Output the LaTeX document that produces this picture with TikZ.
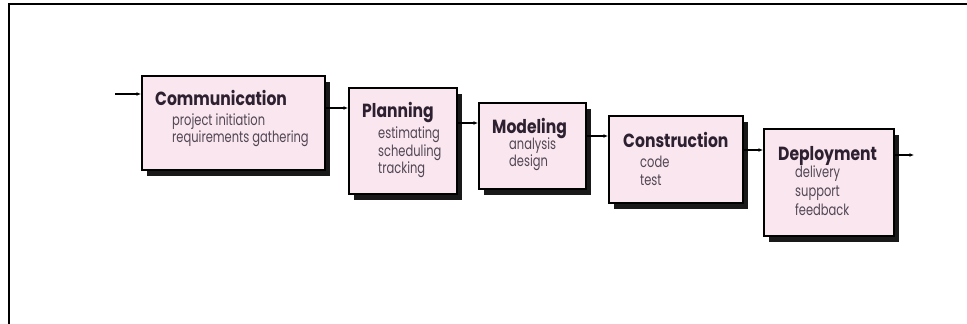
\documentclass[tikz,border=0pt]{standalone}
\usepackage{fontspec}
\usetikzlibrary{arrows.meta,shadows,calc}
\newfontfamily\titlefont{Poppins}[FakeStretch=0.82]
\newfontfamily\itemfont{Poppins}[FakeStretch=0.74]
\definecolor{boxpink}{RGB}{250,230,238}
\definecolor{titleink}{RGB}{45,32,48}
\definecolor{itemink}{RGB}{80,70,84}
\tikzset{
  stage/.style={draw=black, line width=1.6pt, fill=boxpink, rectangle,
    anchor=north west, inner sep=0pt,
    drop shadow={shadow xshift=5pt, shadow yshift=-6pt, fill=black!90, opacity=1}},
  stagetitle/.style={anchor=base west, inner sep=0pt, text=titleink,
    font=\titlefont\bfseries\fontsize{19pt}{19pt}\selectfont},
  stageitem/.style={anchor=base west, inner sep=0pt, text=itemink,
    font=\itemfont\fontsize{15.5pt}{15.5pt}\selectfont},
  flow/.style={line width=1.2pt, -{Latex[length=4.5pt,width=4pt]}},
}
\begin{document}
\begin{tikzpicture}[x=1pt,y=-1pt]
\useasboundingbox (0,0) rectangle (967,324);
\fill[white] (0,0) rectangle (967,324);
% outer frame: top and left rules
\draw[line width=2pt] (967,4) -- (9,4) -- (9,324);

% stages
\node[stage, minimum width=183pt, minimum height=94pt] (comm) at (141,75) {};
\node[stage, minimum width=108pt, minimum height=106pt] (plan) at (348,87) {};
\node[stage, minimum width=107pt, minimum height=86pt] (model) at (478,102) {};
\node[stage, minimum width=134pt, minimum height=87pt] (constr) at (608,115) {};
\node[stage, minimum width=130pt, minimum height=107pt] (deploy) at (763,128) {};

% Communication
\node[stagetitle] (commT) at (155,105) {Communication};
\node[stageitem] (commA) at (172,125) {project initiation};
\node[stageitem] (commB) at (172,142) {requirements gathering};
% Planning
\node[stagetitle] (planT) at (362,117) {Planning};
\node[stageitem] (planA) at (378,138) {estimating};
\node[stageitem] (planB) at (378,156) {scheduling};
\node[stageitem] (planC) at (378,173) {tracking};
% Modeling
\node[stagetitle] (modelT) at (492,133) {Modeling};
\node[stageitem] (modelA) at (509,149) {analysis};
\node[stageitem] (modelB) at (509,166) {design};
% Construction
\node[stagetitle] (constrT) at (623,147) {Construction};
\node[stageitem] (constrA) at (640,167) {code};
\node[stageitem] (constrB) at (640,185) {test};
% Deployment
\node[stagetitle] (deployT) at (778,160) {Deployment};
\node[stageitem] (deployA) at (795,177) {delivery};
\node[stageitem] (deployB) at (795,196) {support};
\node[stageitem] (deployC) at (795,215) {feedback};

% connectors
\coordinate (in) at (115,94);
\draw[flow] (in) -- (in -| comm.west);
\path (comm.north east) ++(0,33) coordinate (c1);
\draw[flow] (c1) -- (c1 -| plan.west);
\path (plan.north east) ++(0,36) coordinate (c2);
\draw[flow] (c2) -- (c2 -| model.west);
\path (model.north east) ++(0,34) coordinate (c3);
\draw[flow] (c3) -- (c3 -| constr.west);
\path (constr.north east) ++(0,35) coordinate (c4);
\draw[flow] (c4) -- (c4 -| deploy.west);
\path (deploy.north east) ++(0,27) coordinate (c5);
\coordinate (out) at (914,155);
\draw[flow] (c5) -- (out);
\end{tikzpicture}
\end{document}
